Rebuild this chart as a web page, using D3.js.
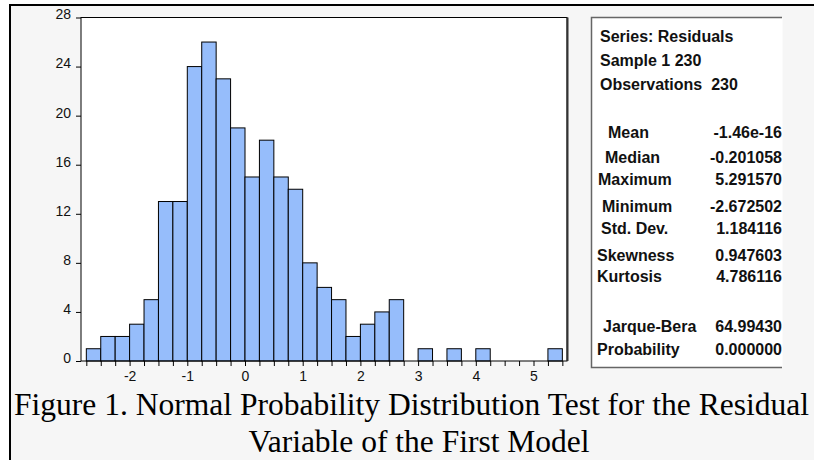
<!DOCTYPE html>
<meta charset="utf-8">
<style>
body { margin: 0; background: #fff; }
svg { display: block; }
.axis text { font: 14px "Liberation Sans", Arial, sans-serif; fill: #111; }
.axis line { stroke: #000; }
.stats text { font: bold 16px "Liberation Sans", Arial, sans-serif; fill: #111; }
.caption { font: 31.5px "Liberation Serif", "Times New Roman", serif; fill: #000; }
</style>
<svg width="814" height="460"></svg>
<script src="https://d3js.org/d3.v7.min.js"></script>
<script>

// histogram of residuals, bins of 0.25
var binLow = [-2.75, -2.5, -2.25, -2, -1.75, -1.5, -1.25, -1, -0.75, -0.5, -0.25,
              0, 0.25, 0.5, 0.75, 1, 1.25, 1.5, 1.75, 2, 2.25, 2.5, 2.75,
              3, 3.25, 3.5, 3.75, 4, 4.25, 4.5, 4.75, 5, 5.25];
var counts = [1, 2, 2, 3, 5, 13, 13, 24, 26, 23, 19,
              15, 18, 15, 14, 8, 6, 5, 2, 3, 4, 5, 0,
              1, 0, 1, 0, 1, 0, 0, 0, 0, 1];
var binWidth = 0.25;

var yTicks = [0, 4, 8, 12, 16, 20, 24, 28];
var xLabels = [-2, -1, 0, 1, 2, 3, 4, 5];

var headerLines = ["Series: Residuals", "Sample 1 230", "Observations  230"];
var statLabels = ["Mean", "Median", "Maximum", "Minimum", "Std. Dev.",
                  "Skewness", "Kurtosis", "Jarque-Bera", "Probability"];
var statValues = ["-1.46e-16", "-0.201058", "5.291570", "-2.672502", "1.184116",
                  "0.947603", "4.786116", "64.99430", "0.000000"];

var captionLines = ["Figure 1. Normal Probability Distribution Test for the Residual",
                    "Variable of the First Model"];

// layout of the stats box rows (baselines / left offsets)
var headerY = [42, 66, 90];
var statY = [138, 163, 185, 212, 234, 261, 282, 332, 355];
var statX = [608, 605, 598, 602, 601, 597, 597, 603, 597];

var svg = d3.select("svg");

// page background + the black frame lines
svg.append("rect").attr("x", 10).attr("y", 5).attr("width", 804).attr("height", 455)
   .attr("fill", "#f6f6f6");
svg.append("rect").attr("x", 9).attr("y", 4).attr("width", 805).attr("height", 2).attr("fill", "#000");
svg.append("rect").attr("x", 9).attr("y", 4).attr("width", 2).attr("height", 456).attr("fill", "#000");

var plot = {left: 81, top: 17.5, right: 567, bottom: 361};

var x = d3.scaleLinear()
    .domain([(plot.left - 245) / 57.7, (plot.right - 245) / 57.7])
    .range([plot.left, plot.right]);

var y = d3.scaleLinear()
    .domain([0, 28])
    .range([plot.bottom, plot.top]);

svg.append("rect")
    .attr("x", plot.left).attr("y", plot.top)
    .attr("width", plot.right - plot.left).attr("height", plot.bottom - plot.top)
    .attr("fill", "#fff");

var g = svg.append("g");

g.selectAll("rect.bar")
    .data(binLow.map(function(d, i) { return {x0: d, n: counts[i]}; }).filter(function(d) { return d.n > 0; }))
  .enter().append("rect")
    .attr("class", "bar")
    .attr("x", function(d) { return x(d.x0); })
    .attr("y", function(d) { return y(d.n); })
    .attr("width", function(d) { return x(d.x0 + binWidth) - x(d.x0); })
    .attr("height", function(d) { return y(0) - y(d.n); })
    .attr("fill", "#96bdfb")
    .attr("stroke", "#000")
    .attr("stroke-width", 1);

// frame of the plot
svg.append("rect")
    .attr("x", plot.left).attr("y", plot.top)
    .attr("width", plot.right - plot.left).attr("height", plot.bottom - plot.top)
    .attr("fill", "none").attr("stroke", "#000").attr("stroke-width", 1);
svg.append("line")
    .attr("x1", plot.right + 0.5).attr("x2", plot.right + 0.5)
    .attr("y1", plot.top).attr("y2", plot.bottom)
    .attr("stroke", "#333").attr("stroke-width", 2);

// y axis
var yAxis = svg.append("g")
    .attr("class", "axis")
    .attr("transform", "translate(" + plot.left + ",0)")
    .call(d3.axisLeft(y).tickValues(yTicks).tickSize(5).tickPadding(5));
yAxis.select(".domain").remove();
yAxis.selectAll("text").attr("dy", "0.1em").attr("x", -10);

// x axis: minor ticks every bin edge, labels on integers (plain hyphen minus)
var xTickVals = binLow.concat([5.5]);
var xAxis = svg.append("g")
    .attr("class", "axis")
    .attr("transform", "translate(0," + plot.bottom + ")")
    .call(d3.axisBottom(x).tickValues(xTickVals).tickSize(5).tickPadding(5)
      .tickFormat(function(d) { return xLabels.indexOf(d) >= 0 ? String(d) : ""; }));
xAxis.select(".domain").remove();

// stats box
var stats = svg.append("g").attr("class", "stats");
stats.append("rect")
    .attr("x", 591.5).attr("y", 17.5).attr("width", 191).attr("height", 350)
    .attr("fill", "#fff");
stats.append("path")
    .attr("d", "M782,17.5H591.5V367.5H782")
    .attr("fill", "none").attr("stroke", "#666").attr("stroke-width", 1.5);

stats.selectAll("text.head")
    .data(headerLines)
  .enter().append("text")
    .attr("class", "head")
    .attr("x", 600)
    .attr("y", function(d, i) { return headerY[i]; })
    .attr("xml:space", "preserve")
    .text(function(d) { return d; });

stats.selectAll("text.lab")
    .data(statLabels)
  .enter().append("text")
    .attr("class", "lab")
    .attr("x", function(d, i) { return statX[i]; })
    .attr("y", function(d, i) { return statY[i]; })
    .text(function(d) { return d; });

stats.selectAll("text.val")
    .data(statValues)
  .enter().append("text")
    .attr("class", "val")
    .attr("x", 782)
    .attr("y", function(d, i) { return statY[i]; })
    .attr("text-anchor", "end")
    .text(function(d) { return d; });

// caption
svg.append("text").attr("class", "caption")
    .attr("x", 14).attr("y", 415)
    .attr("textLength", 795).attr("lengthAdjust", "spacingAndGlyphs")
    .text(captionLines[0]);
svg.append("text").attr("class", "caption")
    .attr("x", 419).attr("y", 452)
    .attr("text-anchor", "middle")
    .text(captionLines[1]);

</script>
